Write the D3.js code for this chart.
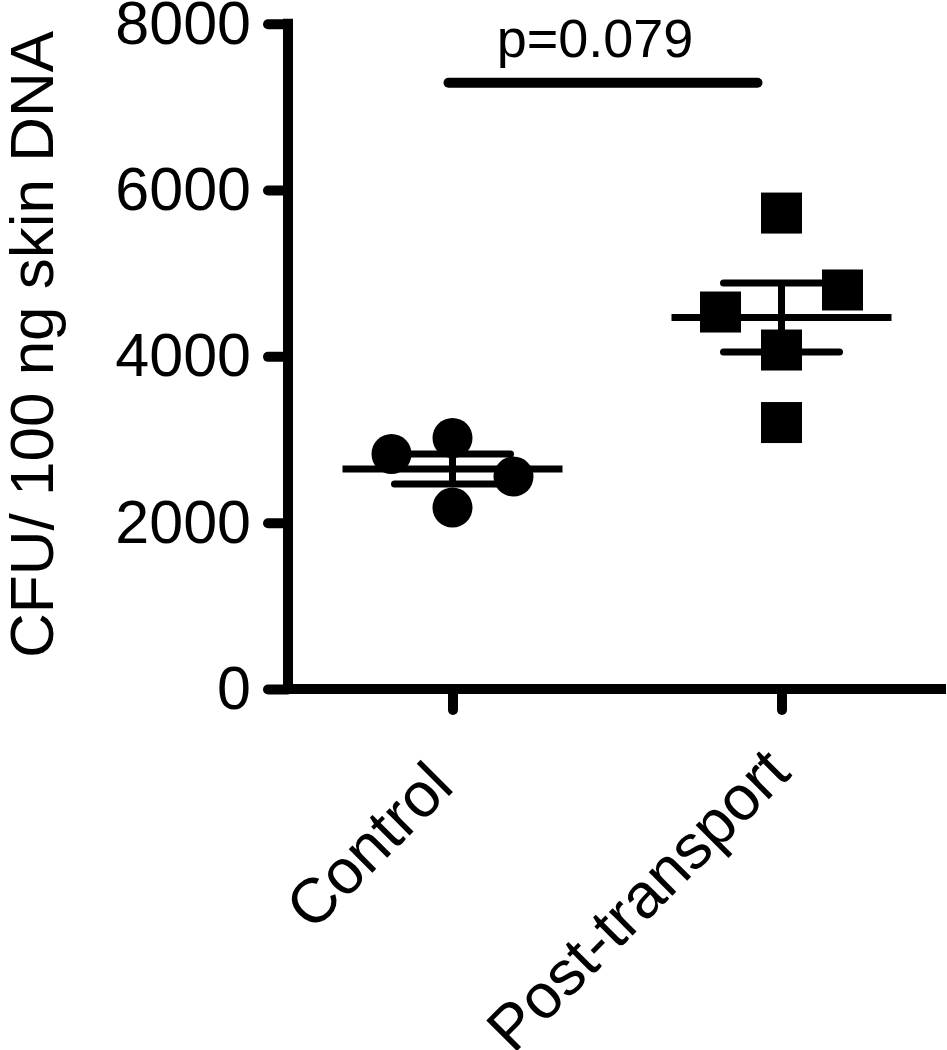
<!DOCTYPE html>
<html>
<head>
<meta charset="utf-8">
<script src="https://cdn.jsdelivr.net/npm/d3@7"></script>
<style>
  body { margin: 0; background: #fff; }
  svg { display: block; }
  text { font-family: "Liberation Sans", Arial, sans-serif; fill: #000; }
</style>
</head>
<body>
<svg class="chart" width="947" height="1050"></svg>
<script>
// groups on the x axis
var groups = ["Control", "Post-transport"];

// CFU per 100 ng skin DNA
var controlValues = [2826, 3018, 2555, 2182];
var postValues = [5723, 4798, 4533, 4076, 3204];

// scatter column slot for each point (-1 left, 0 middle, 1 right)
var controlSlots = [-1, 0, 1, 0];
var postSlots = [0, 1, -1, 0, 0];

var yTicks = [0, 2000, 4000, 6000, 8000];
var yTitle = "CFU/ 100 ng skin DNA";
var pLabel = "p=0.079";
var bracketValue = 7290;

var svg = d3.select(".chart"),
    width = +svg.attr("width"),
    height = +svg.attr("height");

var plotLeft = 288, plotRight = 946, plotTop = 23.7, plotBottom = 689;

var x = d3.scalePoint()
    .domain(groups)
    .range([plotLeft, plotRight])
    .padding(0.5);

var y = d3.scaleLinear()
    .domain([0, 8000])
    .range([plotBottom, plotTop]);

var jitter = 61;
var meanHalf = 110;
var capHalf = 58;

var series = [
  {name: groups[0], values: controlValues, slots: controlSlots},
  {name: groups[1], values: postValues, slots: postSlots}
];

series.forEach(function(s) {
  s.mean = d3.mean(s.values);
  s.sem = d3.deviation(s.values) / Math.sqrt(s.values.length);
  s.points = s.values.map(function(v, i) { return {value: v, slot: s.slots[i]}; });
});

// y axis
var yAxis = svg.append("g")
    .attr("transform", "translate(" + plotLeft + ",0)")
    .call(d3.axisLeft(y).tickValues(yTicks).tickFormat(d3.format("d")).tickSize(20).tickSizeOuter(0).tickPadding(17));

yAxis.select(".domain").remove();
yAxis.selectAll(".tick line")
    .attr("stroke", "#000")
    .attr("stroke-width", 10)
    .attr("stroke-linecap", "round");
yAxis.selectAll(".tick text")
    .style("font-size", "61px")
    .attr("fill", "#000");

yAxis.append("line")
    .attr("x1", 0).attr("x2", 0)
    .attr("y1", y(8000) - 5)
    .attr("y2", y(0) + 5)
    .attr("stroke", "#000")
    .attr("stroke-width", 10);

// x axis
var xAxis = svg.append("g")
    .attr("transform", "translate(0," + plotBottom + ")")
    .call(d3.axisBottom(x).tickSize(21).tickSizeOuter(0));

xAxis.select(".domain").remove();
xAxis.selectAll(".tick line")
    .attr("stroke", "#000")
    .attr("stroke-width", 10)
    .attr("stroke-linecap", "round");
xAxis.selectAll(".tick text")
    .style("font-size", "63px")
    .attr("fill", "#000")
    .attr("text-anchor", "end")
    .attr("dy", null)
    .attr("y", 0)
    .attr("transform", function(d, i) {
      // longer label sits a little higher, as in the original
      return i == 0 ? "translate(3,100) rotate(-45)" : "translate(11,86) rotate(-45)";
    });

xAxis.append("line")
    .attr("x1", plotLeft)
    .attr("x2", plotRight)
    .attr("y1", 0).attr("y2", 0)
    .attr("stroke", "#000")
    .attr("stroke-width", 10);

// y title
svg.append("text")
    .attr("transform", "translate(53," + ((y(0) + y(8000)) / 2 - 12) + ") rotate(-90)")
    .attr("text-anchor", "middle")
    .style("font-size", "62px")
    .text(yTitle);

// mean and SEM
var stats = svg.append("g")
    .attr("stroke", "#000")
    .attr("stroke-width", 7);

stats.selectAll(".mean")
    .data(series)
    .enter().append("line")
    .attr("class", "mean")
    .attr("x1", function(d) { return x(d.name) - meanHalf; })
    .attr("x2", function(d) { return x(d.name) + meanHalf; })
    .attr("y1", function(d) { return y(d.mean); })
    .attr("y2", function(d) { return y(d.mean); });

stats.selectAll(".stem")
    .data(series)
    .enter().append("line")
    .attr("class", "stem")
    .attr("x1", function(d) { return x(d.name); })
    .attr("x2", function(d) { return x(d.name); })
    .attr("y1", function(d) { return y(d.mean + d.sem); })
    .attr("y2", function(d) { return y(d.mean - d.sem); });

stats.selectAll(".capHi")
    .data(series)
    .enter().append("line")
    .attr("class", "capHi")
    .attr("stroke-linecap", "round")
    .attr("x1", function(d) { return x(d.name) - capHalf; })
    .attr("x2", function(d) { return x(d.name) + capHalf; })
    .attr("y1", function(d) { return y(d.mean + d.sem); })
    .attr("y2", function(d) { return y(d.mean + d.sem); });

stats.selectAll(".capLo")
    .data(series)
    .enter().append("line")
    .attr("class", "capLo")
    .attr("stroke-linecap", "round")
    .attr("x1", function(d) { return x(d.name) - capHalf; })
    .attr("x2", function(d) { return x(d.name) + capHalf; })
    .attr("y1", function(d) { return y(d.mean - d.sem); })
    .attr("y2", function(d) { return y(d.mean - d.sem); });

// points
svg.append("g")
    .selectAll("circle")
    .data(series[0].points)
    .enter().append("circle")
    .attr("cx", function(d) { return x(series[0].name) + d.slot * jitter; })
    .attr("cy", function(d) { return y(d.value); })
    .attr("r", 20)
    .attr("fill", "#000");

var side = 41;
svg.append("g")
    .selectAll("rect")
    .data(series[1].points)
    .enter().append("rect")
    .attr("x", function(d) { return x(series[1].name) + d.slot * jitter - side / 2; })
    .attr("y", function(d) { return y(d.value) - side / 2; })
    .attr("width", side)
    .attr("height", side)
    .attr("fill", "#000");

// significance bar
svg.append("line")
    .attr("x1", x(groups[0]) - 4)
    .attr("x2", x(groups[1]) - 24)
    .attr("y1", y(bracketValue))
    .attr("y2", y(bracketValue))
    .attr("stroke", "#000")
    .attr("stroke-width", 10)
    .attr("stroke-linecap", "round");

svg.append("text")
    .attr("x", (x(groups[0]) + x(groups[1])) / 2 - 22)
    .attr("y", y(bracketValue) - 26)
    .attr("text-anchor", "middle")
    .style("font-size", "54px")
    .text(pLabel);
</script>
</body>
</html>
